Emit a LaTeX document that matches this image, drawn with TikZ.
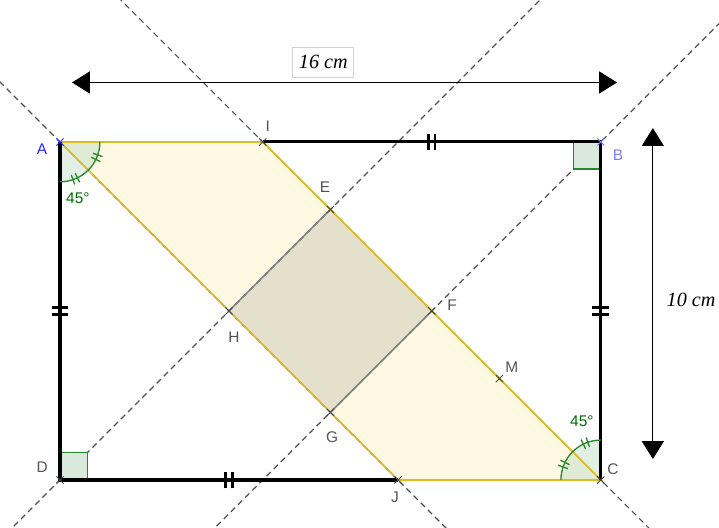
\documentclass[tikz,border=0pt]{standalone}
\usepackage{fontspec}
\setmainfont{Liberation Sans}
\newfontfamily\dimfont{Liberation Serif}
\usetikzlibrary{arrows.meta}
\definecolor{gold}{RGB}{218,188,40}
\definecolor{bandfill}{RGB}{255,248,226}
\definecolor{sqfill}{RGB}{228,224,204}
\definecolor{dashgray}{RGB}{80,80,80}
\definecolor{ptgray}{RGB}{70,70,70}
\definecolor{angleg}{RGB}{40,135,40}
\definecolor{anglefill}{RGB}{200,225,205}
\definecolor{labgray}{RGB}{85,85,85}
\definecolor{blueA}{RGB}{40,40,255}
\definecolor{blueB}{RGB}{125,125,255}
\definecolor{green45}{RGB}{0,105,0}
\tikzset{
  xmark/.pic={\draw[line width=0.8pt] (-3pt,-3pt)--(3pt,3pt) (-3pt,3pt)--(3pt,-3pt);},
  rect/.style={line width=2.6pt, black},
  bandedge/.style={line width=1.5pt, gold},
  guide/.style={dashgray, line width=1pt, dash pattern=on 5pt off 3.5pt},
  sqedge/.style={gray, line width=1.2pt},
  lab/.style={text=labgray, font=\fontsize{13}{15}\selectfont, inner sep=0pt},
  ang/.style={text=green45, font=\fontsize{13}{15}\selectfont, inner sep=0pt},
  sidetick/.style={line width=2.2pt, black},
  arctick/.style={line width=1.1pt, angleg},
  rightsq/.style={fill=anglefill!70, draw=angleg, line width=0.9pt},
  dimarrow/.style={line width=0.9pt, {Triangle[length=15pt,width=18.5pt]}-{Triangle[length=15pt,width=18.5pt]}},
  dimtext/.style={font=\dimfont\itshape\fontsize{17}{20}\selectfont, inner sep=0pt}
}
\begin{document}
\begin{tikzpicture}
\useasboundingbox (-1.775,-1.42) rectangle (19.497,14.20);
% points
\coordinate (A) at (0,10);
\coordinate (B) at (16,10);
\coordinate (C) at (16,0);
\coordinate (D) at (0,0);
\coordinate (I) at (6,10);
\coordinate (J) at (10,0);
\coordinate (E) at (8,8);
\coordinate (F) at (11,5);
\coordinate (G) at (8,2);
\coordinate (H) at (5,5);
\coordinate (M) at (13,3);
% fills
\fill[bandfill] (A) -- (I) -- (C) -- (J) -- cycle;
\fill[sqfill] (E) -- (F) -- (G) -- (H) -- cycle;
% guide lines
\begin{scope}
\clip (-1.775,-1.42) rectangle (19.497,14.20);
\coordinate (g1a) at (1.5,14.5);  \coordinate (g1b) at (18,-2);
\coordinate (g2a) at (-2,12);     \coordinate (g2b) at (12,-2);
\coordinate (g3a) at (-2,-2);     \coordinate (g3b) at (14.5,14.5);
\coordinate (g4a) at (4,-2);      \coordinate (g4b) at (20.5,14.5);
\draw[guide] (g1a) -- (g1b);
\draw[guide] (g2a) -- (g2b);
\draw[guide] (g3a) -- (g3b);
\draw[guide] (g4a) -- (g4b);
\end{scope}
\draw[sqedge] (H) -- (E);
\draw[sqedge] (G) -- (F);
% angle sectors
\fill[anglefill, opacity=0.55] (A) -- ++(-90:1.18) arc[start angle=-90, end angle=0, radius=1.18] -- cycle;
\fill[anglefill, opacity=0.55] (C) -- ++(90:1.18) arc[start angle=90, end angle=180, radius=1.18] -- cycle;
\draw[rightsq] (B) rectangle ++(-0.8,-0.8);
\draw[rightsq] (D) rectangle ++(0.8,0.8);
% band edges
\draw[bandedge] (J) -- (A) -- (I) -- (C) -- (J);
\draw[gold, line width=2.2pt] (A) -- (I);
\draw[gold, line width=2.2pt] (J) -- (C);
% rectangle
\draw[rect] (I) -- (B) -- (C);
\draw[rect] (J) -- (D) -- (A);
% arcs
\draw[angleg, line width=1.1pt] (A) ++(-90:1.18) arc[start angle=-90, end angle=0, radius=1.18];
\draw[angleg, line width=1.1pt] (C) ++(90:1.18) arc[start angle=90, end angle=180, radius=1.18];
\foreach \a in {-71,-64,-26,-19}{
  \draw[arctick] (A) ++(\a:1.03) -- ++(\a:0.3);
}
\foreach \a in {109,116,154,161}{
  \draw[arctick] (C) ++(\a:1.03) -- ++(\a:0.3);
}
% side ticks
\draw[sidetick] (10.9,9.75) -- (10.9,10.25) (11.1,9.75) -- (11.1,10.25);
\draw[sidetick] (4.9,-0.25) -- (4.9,0.25) (5.1,-0.25) -- (5.1,0.25);
\draw[sidetick] (-0.25,4.9) -- (0.25,4.9) (-0.25,5.1) -- (0.25,5.1);
\draw[sidetick] (15.75,4.9) -- (16.25,4.9) (15.75,5.1) -- (16.25,5.1);
% point marks
\pic[color=blueA] at (A) {xmark};
\pic[color=blueB] at (B) {xmark};
\foreach \p in {C,D,I,J,E,F,G,H,M}{
  \pic[color=ptgray] at (\p) {xmark};
}
% labels
\node[lab, text=blueA] (lA) at (-0.53,9.79) {A};
\node[lab, text=blueB] (lB) at (16.51,9.61) {B};
\node[lab] (lC) at (16.36,0.33) {C};
\node[lab] (lD) at (-0.53,0.38) {D};
\node[lab] (lI) at (6.15,10.47) {I};
\node[lab] (lE) at (7.84,8.67) {E};
\node[lab] (lF) at (11.6,5.18) {F};
\node[lab] (lH) at (5.15,4.23) {H};
\node[lab] (lG) at (8.05,1.27) {G};
\node[lab] (lJ) at (9.91,-0.50) {J};
\node[lab] (lM) at (13.37,3.34) {M};
\node[ang] (a1) at (0.53,8.34) {45°};
\node[ang] (a2) at (15.44,1.75) {45°};
% dimensions
\coordinate (h1) at (0.355,11.76);
\coordinate (h2) at (16.48,11.76);
\draw[dimarrow] (h1) -- (h2);
\node[dimtext, draw=gray!35, line width=0.8pt, minimum width=1.8cm, minimum height=0.89cm] (d16) at (7.79,12.36) {16 cm};
\coordinate (v1) at (17.54,10.41);
\coordinate (v2) at (17.54,0.62);
\draw[dimarrow] (v1) -- (v2);
\node[dimtext] (d10) at (18.67,5.33) {10 cm};
\end{tikzpicture}
\end{document}
